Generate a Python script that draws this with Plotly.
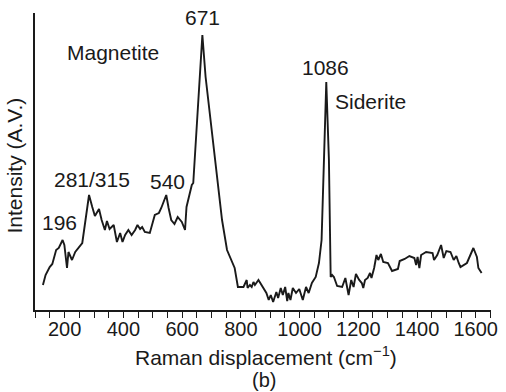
import plotly.graph_objects as go

# Raman shift (cm^-1) and intensity (arbitrary units)
shift = [126, 135, 149, 158, 171, 180, 193, 199, 208, 213, 225, 236, 260, 283, 294, 303, 317, 326,
         337, 344, 353, 367, 378, 389, 397, 406, 417, 428, 440, 448, 457, 464, 473, 490, 507, 521,
         529, 546, 554, 563, 574, 585, 599, 610, 615, 622, 633, 638, 669, 680, 714, 736, 753, 767,
         779, 790, 797, 809, 820, 823, 831, 837, 843, 848, 860, 876, 887, 895, 902, 910, 921, 927,
         936, 943, 951, 958, 962, 969, 977, 988, 999, 1011, 1018, 1022, 1031, 1042, 1055, 1066,
         1075, 1083, 1091, 1100, 1106, 1111, 1117, 1128, 1145, 1156, 1167, 1176, 1184, 1192, 1203,
         1212, 1217, 1223, 1232, 1240, 1245, 1254, 1262, 1268, 1277, 1285, 1301, 1315, 1335, 1341,
         1358, 1374, 1391, 1397, 1402, 1408, 1414, 1431, 1453, 1458, 1469, 1482, 1491, 1500, 1514,
         1525, 1534, 1542, 1548, 1570, 1583, 1592, 1604, 1609, 1620]
intensity = [25, 35, 43, 46, 60, 62, 70, 65, 42, 58, 50, 58, 67, 115, 103, 94, 101, 90,
             80, 89, 81, 85, 68, 77, 68, 75, 80, 75, 80, 85, 81, 83, 78, 77, 95, 97,
             102, 115, 102, 90, 86, 93, 88, 80, 103, 113, 125, 127, 275, 233, 150, 90, 60, 50,
             42, 23, 23, 23, 30, 22, 25, 23, 28, 25, 30, 23, 17, 10, 15, 8, 18, 12,
             22, 15, 23, 9, 17, 10, 22, 17, 21, 10, 18, 23, 17, 27, 33, 47,
             70, 150, 228, 150, 33, 35, 33, 24, 23, 32, 15, 30, 23, 36, 30,
             27, 22, 30, 32, 37, 32, 42, 55, 50, 56, 48, 47, 39, 41, 49,
             51, 54, 52, 45, 53, 42, 55, 58, 57, 50, 55, 65, 52, 59, 58,
             50, 54, 47, 43, 47, 55, 62, 53, 42, 37]

# Peak labels
peak_labels = ["196", "281/315", "540", "671", "Magnetite", "1086", "Siderite"]
peak_x = [184, 294, 551, 671, 364, 1089, 1242]
peak_y = [88, 131, 129, 293, 258, 243, 209]

FONT = "Liberation Sans, Arial, Helvetica, sans-serif"
INK = "#1a1a1a"

fig = go.Figure()
fig.add_trace(go.Scatter(x=shift, y=intensity, mode="lines",
                         line=dict(color=INK, width=1.9), hoverinfo="skip"))

for t, x, y in zip(peak_labels, peak_x, peak_y):
    fig.add_annotation(x=x, y=y, xref="x", yref="y", text=t, showarrow=False,
                       xanchor="center", yanchor="middle",
                       font=dict(family=FONT, size=21, color=INK))

fig.add_annotation(x=0.507, y=-0.155, xref="paper", yref="paper",
                   text="Raman displacement (cm<sup>\u22121</sup>)", showarrow=False,
                   xanchor="center", yanchor="middle",
                   font=dict(family=FONT, size=21, color=INK))
fig.add_annotation(x=0.503, y=-0.236, xref="paper", yref="paper", text="(b)",
                   showarrow=False, xanchor="center", yanchor="middle",
                   font=dict(family=FONT, size=20, color=INK))
fig.add_annotation(x=-0.045, y=0.488, xref="paper", yref="paper",
                   text="Intensity (A.V.)", textangle=-90, showarrow=False,
                   xanchor="center", yanchor="middle",
                   font=dict(family=FONT, size=21, color=INK))

fig.update_layout(
    width=506, height=392,
    margin=dict(l=35, r=8, t=13, b=82),
    paper_bgcolor="white", plot_bgcolor="white",
    showlegend=False,
    font=dict(family=FONT, size=20, color=INK),
    xaxis=dict(range=[99, 1652], showgrid=False, zeroline=False,
               showline=True, linecolor=INK, linewidth=1.5,
               ticks="outside", ticklen=6, tickwidth=1.3, tickcolor=INK,
               tick0=0, dtick=200, ticklabelstandoff=-6,
               tickfont=dict(size=20, family=FONT, color=INK),
               minor=dict(ticks="outside", ticklen=6, tickwidth=1.3, tickcolor=INK,
                          dtick=50, tick0=0, showgrid=False)),
    yaxis=dict(range=[0, 297], showgrid=False, zeroline=False,
               showline=True, linecolor=INK, linewidth=1.5,
               ticks="", showticklabels=False),
)

fig.write_html("out.html")
